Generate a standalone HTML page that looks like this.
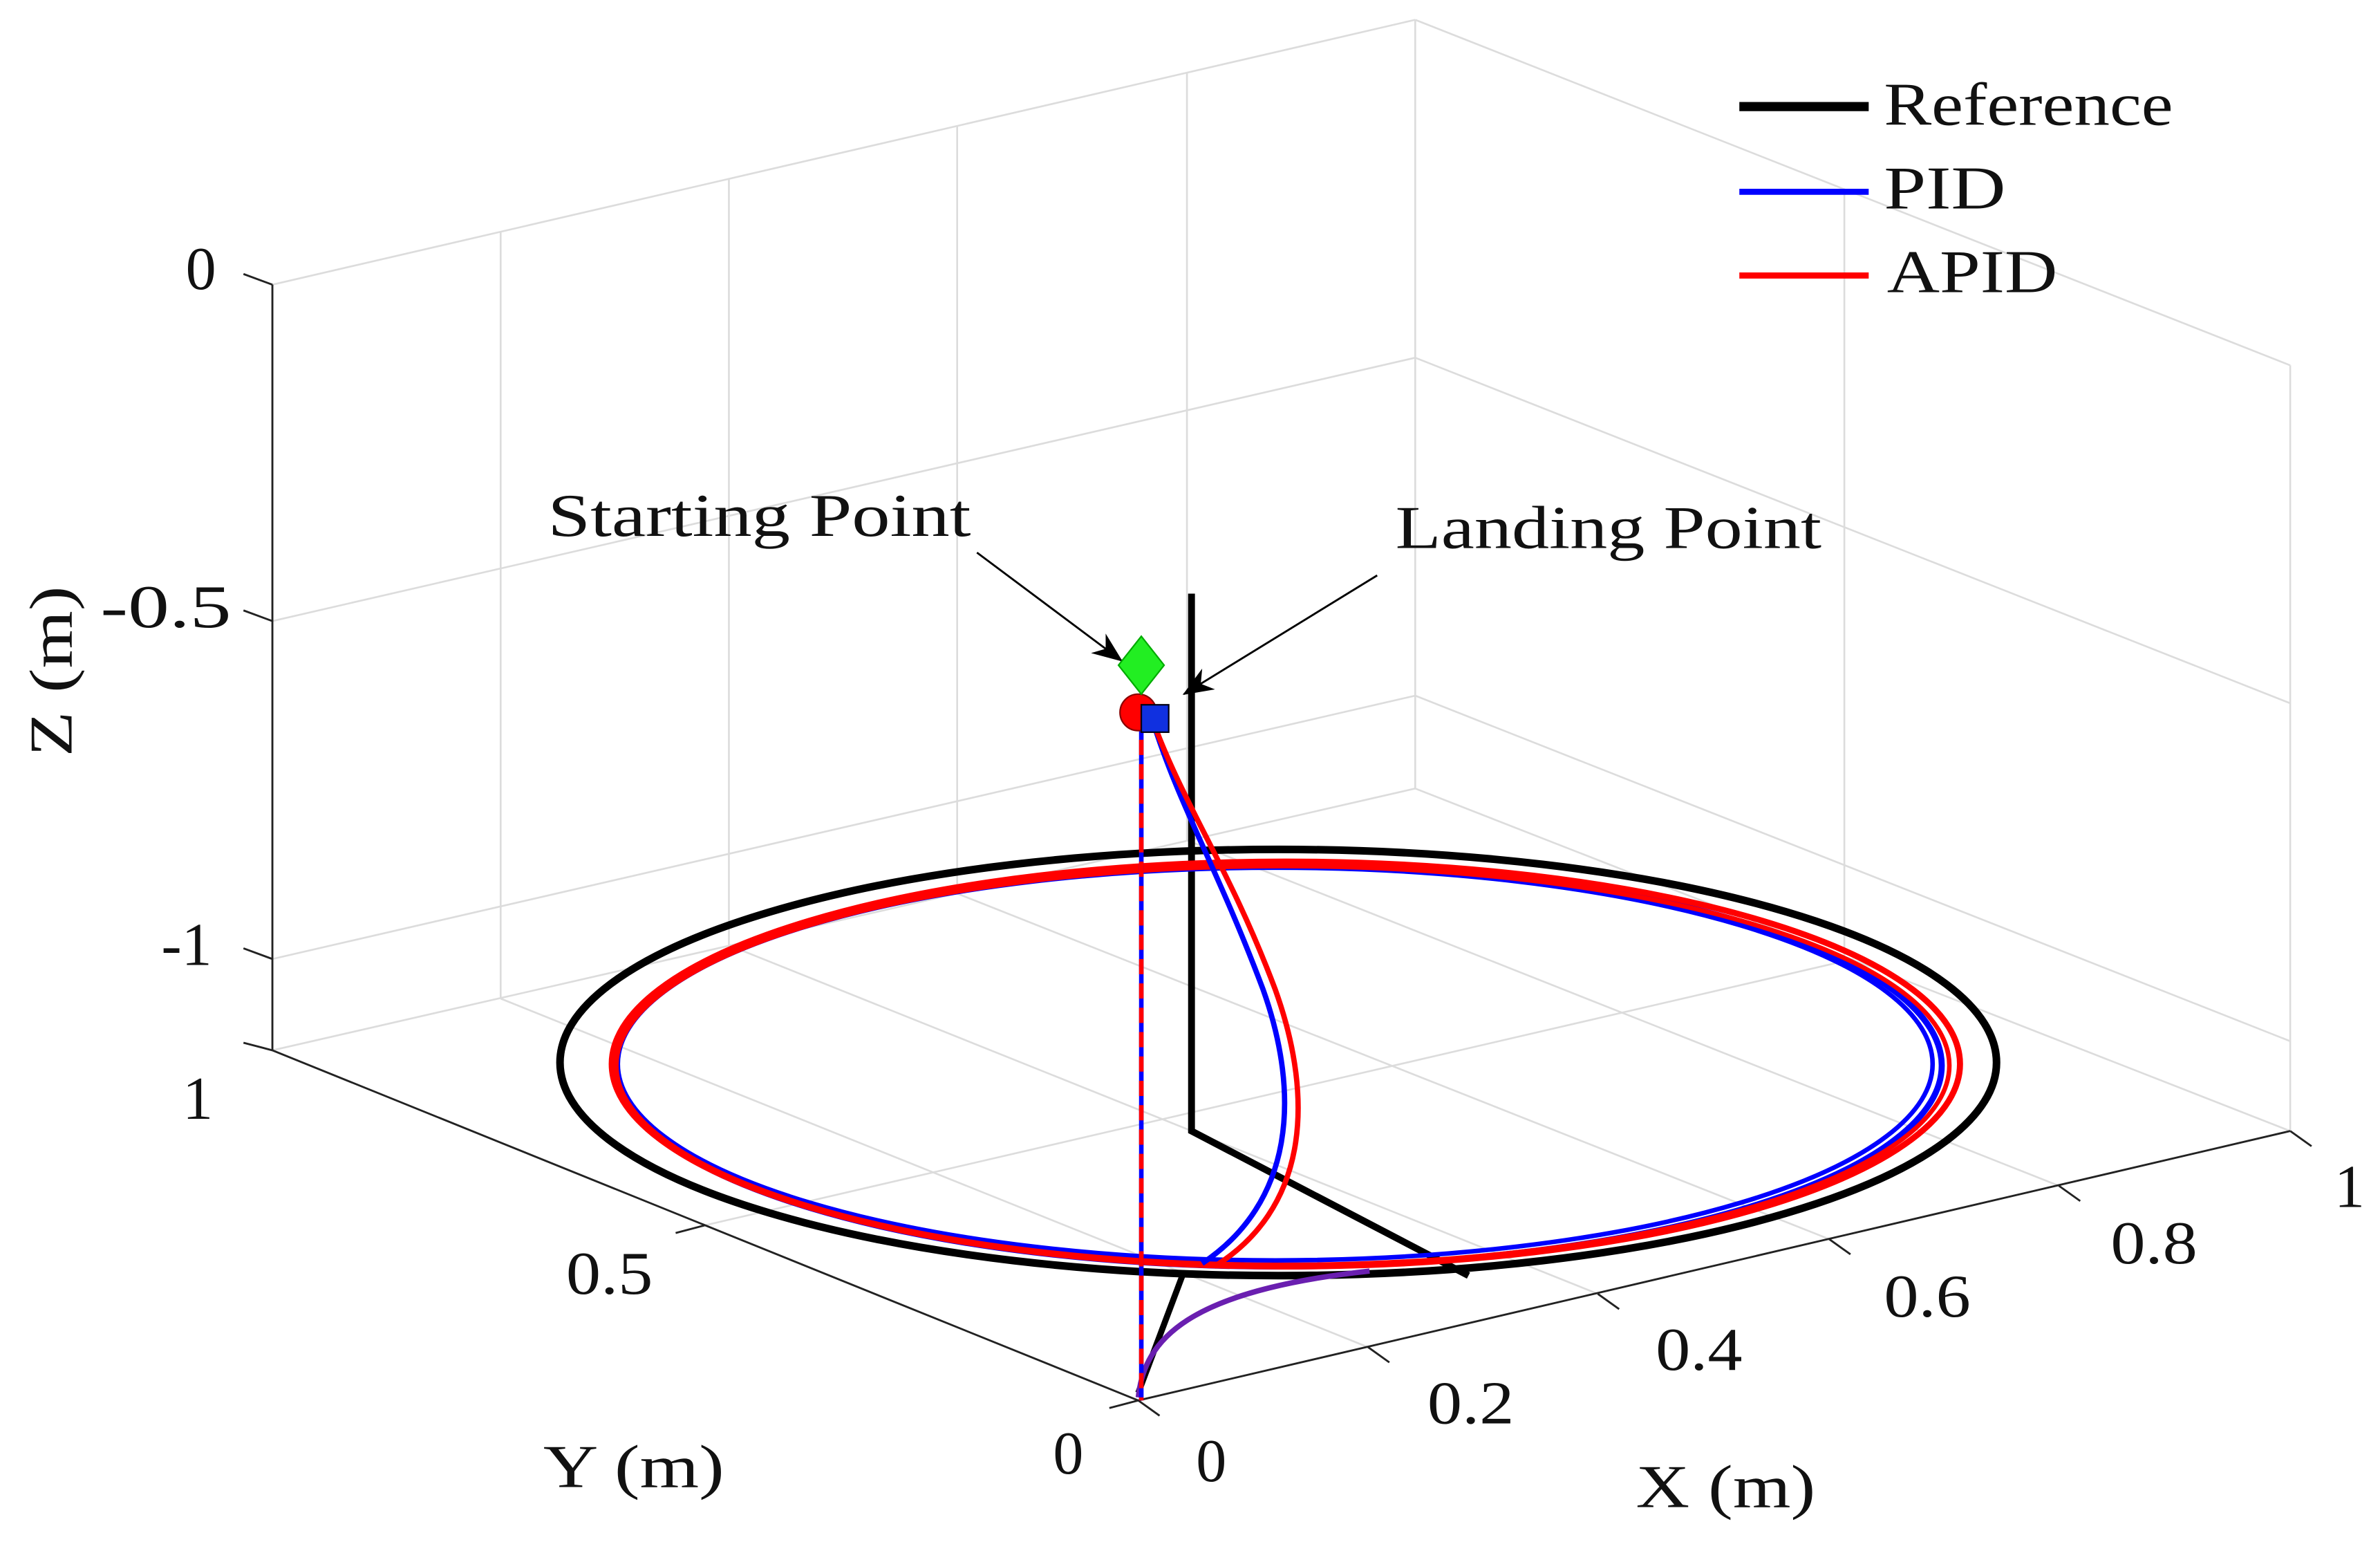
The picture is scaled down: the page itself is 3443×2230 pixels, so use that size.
<!DOCTYPE html>
<html><head><meta charset="utf-8"><style>
html,body{margin:0;padding:0;background:#fff;}
svg{display:block;}
text{font-family:"Liberation Serif",serif;fill:#111;}
</style></head><body>
<svg width="3443" height="2230" viewBox="0 0 1564 1013" preserveAspectRatio="none" xmlns="http://www.w3.org/2000/svg">
<defs>
<marker id="ah" markerWidth="20" markerHeight="16" refX="19" refY="8" orient="auto" markerUnits="userSpaceOnUse" viewBox="0 0 20 16">
<path d="M0,0 L20,8 L0,16 L6,8 Z" fill="#000"/>
</marker>
</defs>
<g stroke="#dcdcdc" stroke-width="1.2" fill="none">
<line x1="179" y1="187" x2="930" y2="13"/>
<line x1="179" y1="408" x2="930" y2="235"/>
<line x1="179" y1="630" x2="930" y2="457"/>
<line x1="329" y1="152" x2="329" y2="656"/>
<line x1="479" y1="118" x2="479" y2="621"/>
<line x1="629" y1="83" x2="629" y2="587"/>
<line x1="780" y1="48" x2="780" y2="552"/>
<line x1="930" y1="13" x2="930" y2="518"/>
<line x1="930" y1="13" x2="1505" y2="240"/>
<line x1="930" y1="235" x2="1505" y2="462"/>
<line x1="930" y1="457" x2="1505" y2="684"/>
<line x1="1212" y1="124" x2="1212" y2="630"/>
<line x1="1505" y1="240" x2="1505" y2="743"/>
<line x1="329" y1="656" x2="899" y2="885"/>
<line x1="479" y1="621" x2="1050" y2="850"/>
<line x1="629" y1="587" x2="1202" y2="814"/>
<line x1="780" y1="552" x2="1353" y2="779"/>
<line x1="463" y1="805" x2="1218" y2="630"/>
<line x1="179" y1="690" x2="930" y2="518"/>
<line x1="930" y1="518" x2="1505" y2="743"/>
</g>
<g stroke="#222" stroke-width="1.3" fill="none">
<line x1="179" y1="187" x2="179" y2="690"/>
<line x1="179" y1="690" x2="748" y2="920"/>
<line x1="748" y1="920" x2="1505" y2="743"/>
<line x1="160" y1="180" x2="179" y2="187"/>
<line x1="160" y1="401" x2="179" y2="408"/>
<line x1="160" y1="623" x2="179" y2="630"/>
<line x1="160" y1="685" x2="179" y2="690"/>
<line x1="444" y1="810" x2="463" y2="805"/>
<line x1="729" y1="925" x2="748" y2="920"/>
<line x1="748" y1="920" x2="762" y2="930"/>
<line x1="899" y1="885" x2="913" y2="895"/>
<line x1="1050" y1="850" x2="1064" y2="860"/>
<line x1="1202" y1="814" x2="1216" y2="824"/>
<line x1="1353" y1="779" x2="1367" y2="789"/>
<line x1="1505" y1="743" x2="1519" y2="753"/>
</g>
<g font-size="40">
<text x="122" y="190">0</text>
<text x="66" y="412" textLength="86" lengthAdjust="spacingAndGlyphs">-0.5</text>
<text x="106" y="634">-1</text>
<text x="120" y="735">1</text>
<text x="372" y="850" textLength="57" lengthAdjust="spacingAndGlyphs">0.5</text>
<text x="692" y="968">0</text>
<text x="786" y="973">0</text>
<text x="938" y="935" textLength="57" lengthAdjust="spacingAndGlyphs">0.2</text>
<text x="1088" y="900" textLength="57" lengthAdjust="spacingAndGlyphs">0.4</text>
<text x="1238" y="865" textLength="57" lengthAdjust="spacingAndGlyphs">0.6</text>
<text x="1387" y="830" textLength="57" lengthAdjust="spacingAndGlyphs">0.8</text>
<text x="1534" y="793">1</text>
<text x="357" y="977" textLength="119" lengthAdjust="spacingAndGlyphs">Y (m)</text>
<text x="1075" y="990" textLength="118" lengthAdjust="spacingAndGlyphs">X (m)</text>
<text transform="translate(47,497) rotate(-90)" textLength="112" lengthAdjust="spacingAndGlyphs">Z (m)</text>
<text x="360" y="352" textLength="278" lengthAdjust="spacingAndGlyphs">Starting Point</text>
<text x="917" y="360" textLength="280" lengthAdjust="spacingAndGlyphs">Landing Point</text>
<text x="1238" y="82" textLength="190" lengthAdjust="spacingAndGlyphs">Reference</text>
<text x="1238" y="137" textLength="80" lengthAdjust="spacingAndGlyphs">PID</text>
<text x="1240" y="192" textLength="112" lengthAdjust="spacingAndGlyphs">APID</text>
</g>
<line x1="1143" y1="70" x2="1228" y2="70" stroke="#000" stroke-width="6"/>
<line x1="1143" y1="126" x2="1228" y2="126" stroke="#0000ff" stroke-width="4"/>
<line x1="1143" y1="181" x2="1228" y2="181" stroke="#ff0000" stroke-width="4"/>
<ellipse cx="840" cy="698" rx="472" ry="140" fill="none" stroke="#000" stroke-width="5"/>
<polyline points="783,390 783,743 965,838" fill="none" stroke="#000" stroke-width="4.5"/>
<line x1="748" y1="915" x2="777" y2="838" stroke="#000" stroke-width="4"/>
<ellipse cx="840" cy="700" rx="436" ry="132" fill="none" stroke="#0000ff" stroke-width="4"/>
<ellipse cx="838" cy="699" rx="432" ry="129" fill="none" stroke="#0000ff" stroke-width="3"/>
<ellipse cx="845" cy="699" rx="443" ry="133" fill="none" stroke="#ff0000" stroke-width="4"/>
<ellipse cx="843" cy="700" rx="438" ry="131" fill="none" stroke="#ff0000" stroke-width="3"/>
<path d="M757,472 C775,530 800,570 830,650 C855,720 850,790 790,830" fill="none" stroke="#0000ff" stroke-width="3.5"/>
<path d="M757,472 C778,530 808,570 838,650 C865,725 858,795 798,832" fill="none" stroke="#ff0000" stroke-width="3.5"/>
<path d="M748,918 C752,880 780,848 900,835" fill="none" stroke="#6a1fb0" stroke-width="3.5"/>
<line x1="750" y1="470" x2="750" y2="920" stroke="#0000ff" stroke-width="3"/>
<line x1="750" y1="470" x2="750" y2="920" stroke="#ff0000" stroke-width="3" stroke-dasharray="10,6"/>
<line x1="642" y1="363" x2="737" y2="434" stroke="#000" stroke-width="1.3" marker-end="url(#ah)"/>
<line x1="905" y1="378" x2="778" y2="456" stroke="#000" stroke-width="1.3" marker-end="url(#ah)"/>
<circle cx="748" cy="468" r="12" fill="#ff0000" stroke="#800" stroke-width="1"/>
<rect x="750" y="463" width="18" height="18" fill="#1030e0" stroke="#001" stroke-width="1"/>
<polygon points="750,418 765,437 750,456 735,437" fill="#22ee22" stroke="#0a0" stroke-width="1"/>
</svg>
</body></html>
